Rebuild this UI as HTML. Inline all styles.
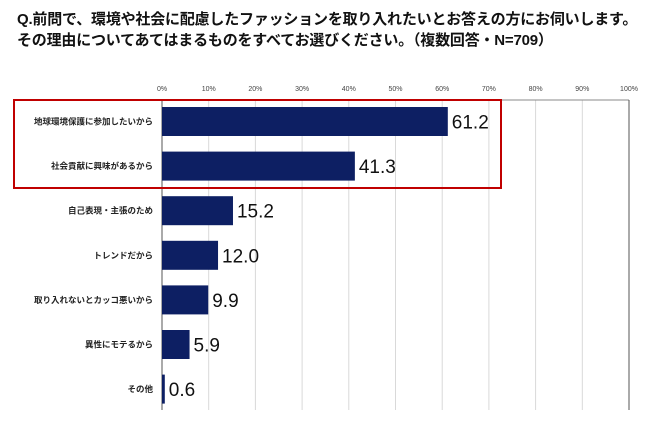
<!DOCTYPE html>
<html><head><meta charset="utf-8"><style>
body{margin:0;background:#fff;width:650px;height:427px;overflow:hidden;font-family:"Liberation Sans","Noto Sans CJK JP",sans-serif}
#t{position:absolute;left:17px;top:9px;font-size:15px;font-weight:bold;line-height:21px;color:#111;letter-spacing:-0.2px}
</style></head><body>
<div id="t">Q.前問で、環境や社会に配慮したファッションを取り入れたいとお答えの方にお伺いします。<br>その理由についてあてはまるものをすべてお選びください。（複数回答・N=709）</div>
<svg id="c" width="650" height="427" style="position:absolute;left:0;top:0"></svg>
<script>
const categories=["地球環境保護に参加したいから","社会貢献に興味があるから","自己表現・主張のため","トレンドだから","取り入れないとカッコ悪いから","異性にモテるから","その他"];
const values=[61.2,41.3,15.2,12.0,9.9,5.9,0.6];
const ticks=[0,10,20,30,40,50,60,70,80,90,100];
const NS="http://www.w3.org/2000/svg",svg=document.getElementById('c');
const x0=162,xw=467,top0=100,bot=410,step=44.6,bh=29,b0=107;
const X=v=>x0+v/100*xw;
function mk(t,a,txt){const e=document.createElementNS(NS,t);for(const k in a)e.setAttribute(k,a[k]);if(txt!=null)e.textContent=txt;svg.appendChild(e);return e;}
ticks.forEach(v=>{
 const g=mk('line',{x1:X(v),x2:X(v),y1:top0,y2:bot,stroke:v==0?'#555':'#d9d9d9','stroke-width':1});
 
 
 const l=mk('text',{x:X(v),y:91,'font-size':7,'text-anchor':'middle',fill:'#444'},v+'%');
 
 
});
const b=mk('line',{x1:X(0),x2:X(100),y1:top0,y2:top0,stroke:'#888'});

const r=mk('line',{x1:X(100),x2:X(100),y1:top0,y2:bot,stroke:'#555'});

categories.forEach((c,i)=>{
 const y=b0+i*step;
 const bar=mk('rect',{x:X(0),y:y,width:X(values[i])-X(0),height:bh,fill:'#0d1f63'});
 
 
 const lb=mk('text',{x:153,y:y+bh/2+3,'font-size':8.5,'font-weight':'bold','text-anchor':'end',fill:'#222'},c);
 
 
 const vl=mk('text',{x:X(values[i])+4,y:y+bh/2+7,'font-size':19,fill:'#111'},values[i].toFixed(1));
 
 
});
const hb=mk('rect',{x:14,y:100,width:487,height:88,fill:'none',stroke:'#c00000','stroke-width':2});


</script>
</body></html>
